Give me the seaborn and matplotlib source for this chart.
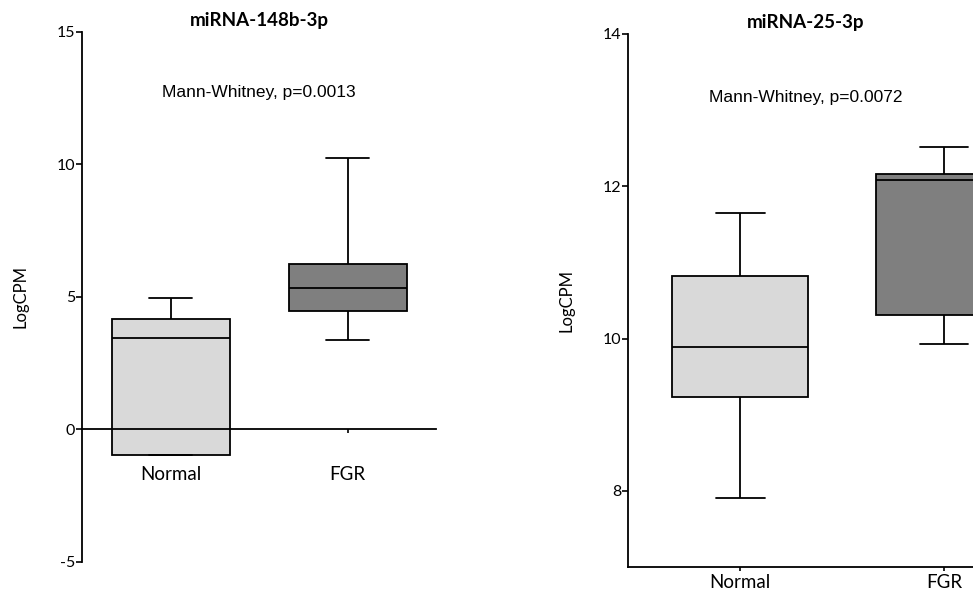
import numpy as np
import pandas as pd
import seaborn as sns
import matplotlib.pyplot as plt

sns.set_style("white")
plt.rcParams['font.family'] = ['Lato', 'DejaVu Sans']
plt.rcParams['axes.unicode_minus'] = False
plt.rcParams['text.color'] = 'black'
plt.rcParams['axes.labelcolor'] = 'black'
plt.rcParams['xtick.color'] = 'black'
plt.rcParams['ytick.color'] = 'black'

# five-number summaries: min, Q1, median, Q3, max
groups = ["Normal", "FGR"]
mir148_normal = [-0.95, -0.95, 3.45, 4.15, 4.97]
mir148_fgr = [3.37, 4.47, 5.32, 6.24, 10.23]
mir25_normal = [7.90, 9.23, 9.89, 10.82, 11.65]
mir25_fgr = [9.93, 10.31, 12.08, 12.16, 12.52]

titles = ["miRNA-148b-3p", "miRNA-25-3p"]
pvals = ["Mann-Whitney, p=0.0013", "Mann-Whitney, p=0.0072"]
colors = ["#d9d9d9", "#7f7f7f"]


def long_df(normal, fgr):
    return pd.DataFrame({
        "group": ["Normal"] * len(normal) + ["FGR"] * len(fgr),
        "LogCPM": normal + fgr,
    })


fig = plt.figure(figsize=(9.73, 5.99), dpi=100)
ax1 = fig.add_axes([0.0843, 0.0618, 0.364, 0.885])
ax2 = fig.add_axes([0.6454, 0.0534, 0.44, 0.890])

for ax, df in [(ax1, long_df(mir148_normal, mir148_fgr)),
               (ax2, long_df(mir25_normal, mir25_fgr))]:
    sns.boxplot(data=df, x="group", y="LogCPM", hue="group", order=groups,
                palette=colors, whis=(0, 100), width=0.667, legend=False,
                linecolor="black", linewidth=1.3, ax=ax,
                capwidths=0.24)
    sns.despine(ax=ax)
    ax.set_xlabel("")
    ax.set_ylabel("LogCPM", fontsize=12, labelpad=20)
    ax.tick_params(axis="y", direction="out", length=4, width=1.2,
                   labelsize=11.5, pad=1, left=True, color="black")
    ax.tick_params(axis="x", direction="out", length=3, width=1.2,
                   labelsize=13.5, bottom=True, color="black")
    for s in ["left", "bottom"]:
        ax.spines[s].set_linewidth(1.3)
        ax.spines[s].set_color("black")
        ax.spines[s].set_zorder(5)

# left panel
ax1.set_ylim(-5, 15)
ax1.set_yticks([-5, 0, 5, 10, 15])
ax1.set_xlim(-0.5, 1.5)
ax1.spines["bottom"].set_position(("data", 0))
ax1.tick_params(axis="x", pad=23)
ax1.set_title(titles[0], fontsize=13.5, fontweight="bold", pad=4)
ax1.text(0.5, 12.7, pvals[0], ha="center", va="center", fontsize=12.5,
         family="Liberation Sans")

# right panel
ax2.set_ylim(7, 14)
ax2.set_yticks([8, 10, 12, 14])
ax2.set_xlim(-0.55, 1.55)
ax2.tick_params(axis="x", pad=2)
ax2.set_title(titles[1], fontsize=13.5, fontweight="bold", pad=4,
              x=(0.32 + 0.55) / 2.1)
ax2.text(0.32, 13.17, pvals[1], ha="center", va="center", fontsize=12.5,
         family="Liberation Sans")

plt.savefig("out.png", dpi=100)
